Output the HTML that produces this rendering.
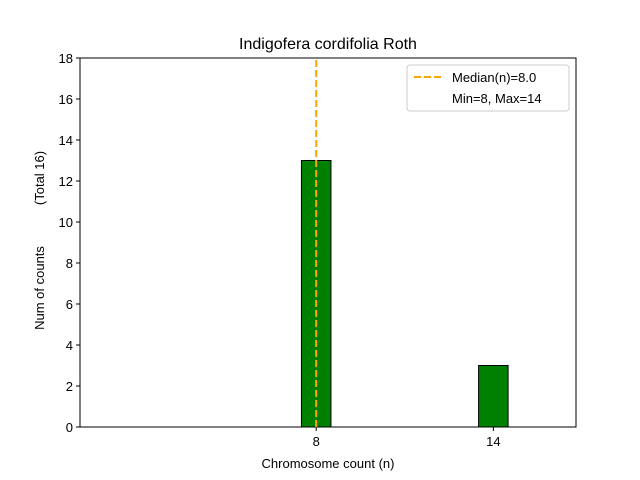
<!DOCTYPE html>
<html><head><meta charset="utf-8"><style>
body{margin:0;background:#fff;}
svg{display:block;font-family:"Liberation Sans","DejaVu Sans",sans-serif;}
</style></head><body>
<svg id="chart" width="640" height="480">
<rect x="0" y="0" width="640" height="480" fill="#fff"/>
<g id="bars"></g>
<g id="ticks"></g>
<rect x="80" y="58" width="496" height="369" fill="none" stroke="#000" stroke-width="1"/>
<text x="328" y="49" font-size="16" text-anchor="middle">Indigofera cordifolia Roth</text>
<text x="328" y="468" font-size="13" text-anchor="middle">Chromosome count (n)</text>
<g>
<text transform="translate(44,288) rotate(-90)" font-size="13" text-anchor="middle">Num of counts</text>
<text transform="translate(44,178) rotate(-90)" font-size="13" text-anchor="middle">(Total 16)</text>
</g>
<g>
<rect x="407" y="65" width="162" height="46" rx="3" fill="#fff" stroke="#ccc"/>
<line x1="414" y1="77" x2="442" y2="77" stroke="orange" stroke-width="2" stroke-dasharray="7,3"/>
<text x="452" y="82" font-size="13">Median(n)=8.0</text>
<text x="452" y="103" font-size="13">Min=8, Max=14</text>
</g>
<g id="median"></g>
</svg>
<script>
const categories=[8,14];
const counts=[13,3];
const yTicks=[0,2,4,6,8,10,12,14,16,18];
const medianValue=8.0;
const X0=80,X1=576,Y0=427,Y1=58;
const xMin=0,xMax=16.8,yMin=0,yMax=18;
const xs=v=>X0+(v-xMin)/(xMax-xMin)*(X1-X0);
const ys=v=>Y0-(v-yMin)/(yMax-yMin)*(Y0-Y1);
const NS="http://www.w3.org/2000/svg";
const bars=document.getElementById('bars'),ticks=document.getElementById('ticks');
categories.forEach((c,i)=>{
 const r=document.createElementNS(NS,'rect');
 r.setAttribute('x',xs(c-0.5));r.setAttribute('width',xs(c+0.5)-xs(c-0.5));
 r.setAttribute('y',ys(counts[i]));r.setAttribute('height',ys(0)-ys(counts[i]));
 r.setAttribute('fill','green');r.setAttribute('stroke','#000');
 
 
 bars.appendChild(r);
 const t=document.createElementNS(NS,'line');
 t.setAttribute('x1',xs(c));t.setAttribute('x2',xs(c));t.setAttribute('y1',Y0);t.setAttribute('y2',Y0+4);t.setAttribute('stroke','#000');
 
 
 ticks.appendChild(t);
 const l=document.createElementNS(NS,'text');
 l.setAttribute('x',xs(c));l.setAttribute('y',Y0+19);l.setAttribute('font-size','13');l.setAttribute('text-anchor','middle');l.textContent=c;
 
 
 ticks.appendChild(l);
});
yTicks.forEach(v=>{
 const t=document.createElementNS(NS,'line');
 t.setAttribute('x1',X0-4);t.setAttribute('x2',X0);t.setAttribute('y1',ys(v));t.setAttribute('y2',ys(v));t.setAttribute('stroke','#000');
 
 
 ticks.appendChild(t);
 const l=document.createElementNS(NS,'text');
 l.setAttribute('x',X0-7);l.setAttribute('y',ys(v)+5);l.setAttribute('font-size','13');l.setAttribute('text-anchor','end');l.textContent=v;
 
 
 ticks.appendChild(l);
});
const m=document.createElementNS(NS,'line');
m.setAttribute('x1',xs(medianValue));m.setAttribute('x2',xs(medianValue));m.setAttribute('y1',Y0);m.setAttribute('y2',Y1);
m.setAttribute('stroke','orange');m.setAttribute('stroke-width','2');m.setAttribute('stroke-dasharray','7,3');


document.getElementById('median').appendChild(m);
</script>
</body></html>
